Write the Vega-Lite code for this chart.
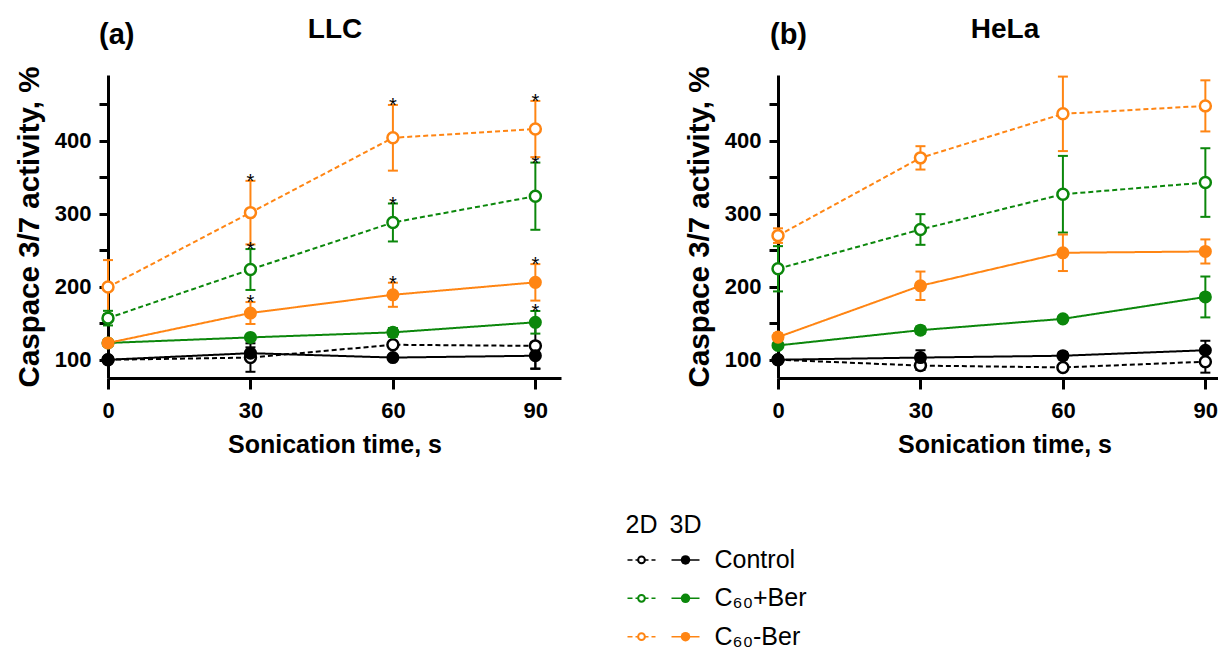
{
  "$schema": "https://vega.github.io/schema/vega-lite/v6.json",
  "autosize": {"type": "pad"},
  "padding": {"left": 14, "top": 15, "right": 0, "bottom": 0},
  "bounds": "flush",
  "columns": 2,
  "spacing": {"column": 217, "row": 122},
  "config": {
    "font": "Liberation Sans",
    "view": {"stroke": null},
    "axis": {
      "domainColor": "black", "domainWidth": 3, "tickColor": "black", "tickWidth": 3,
      "labelFont": "Liberation Sans", "labelFontWeight": "bold", "labelFontSize": 22, "labelColor": "black",
      "titleFont": "Liberation Sans", "titleFontWeight": "bold", "titleColor": "black", "grid": false
    },
    "title": {"font": "Liberation Sans", "fontWeight": "bold", "color": "black"}
  },
  "datasets": {
    "main": [
      {"panel": "LLC", "group": "Control", "dim": "2D", "time": 0, "mean": 100, "lo": 97, "hi": 103, "star": false},
      {"panel": "LLC", "group": "Control", "dim": "2D", "time": 30, "mean": 103, "lo": 83.5, "hi": 122.5, "star": false},
      {"panel": "LLC", "group": "Control", "dim": "2D", "time": 60, "mean": 120.5, "lo": 116.5, "hi": 124.5, "star": false},
      {"panel": "LLC", "group": "Control", "dim": "2D", "time": 90, "mean": 119, "lo": 88, "hi": 150, "star": false},
      {"panel": "LLC", "group": "Control", "dim": "3D", "time": 0, "mean": 100, "lo": 98, "hi": 102, "star": false},
      {"panel": "LLC", "group": "Control", "dim": "3D", "time": 30, "mean": 109, "lo": 101, "hi": 117, "star": false},
      {"panel": "LLC", "group": "Control", "dim": "3D", "time": 60, "mean": 103, "lo": 100, "hi": 106, "star": false},
      {"panel": "LLC", "group": "Control", "dim": "3D", "time": 90, "mean": 105.5, "lo": 87.5, "hi": 123.5, "star": false},
      {"panel": "LLC", "group": "C60+Ber", "dim": "2D", "time": 0, "mean": 157, "lo": 147, "hi": 167, "star": false},
      {"panel": "LLC", "group": "C60+Ber", "dim": "2D", "time": 30, "mean": 223.6, "lo": 195.6, "hi": 251.6, "star": true},
      {"panel": "LLC", "group": "C60+Ber", "dim": "2D", "time": 60, "mean": 288, "lo": 262, "hi": 314, "star": true},
      {"panel": "LLC", "group": "C60+Ber", "dim": "2D", "time": 90, "mean": 324, "lo": 278, "hi": 370, "star": true},
      {"panel": "LLC", "group": "C60+Ber", "dim": "3D", "time": 0, "mean": 123, "lo": 119, "hi": 127, "star": false},
      {"panel": "LLC", "group": "C60+Ber", "dim": "3D", "time": 30, "mean": 130.6, "lo": 127.6, "hi": 133.6, "star": false},
      {"panel": "LLC", "group": "C60+Ber", "dim": "3D", "time": 60, "mean": 137.5, "lo": 131.5, "hi": 143.5, "star": false},
      {"panel": "LLC", "group": "C60+Ber", "dim": "3D", "time": 90, "mean": 151.3, "lo": 135.8, "hi": 166.8, "star": true},
      {"panel": "LLC", "group": "C60-Ber", "dim": "2D", "time": 0, "mean": 199.5, "lo": 162.5, "hi": 236.5, "star": false},
      {"panel": "LLC", "group": "C60-Ber", "dim": "2D", "time": 30, "mean": 301.5, "lo": 258, "hi": 345, "star": true},
      {"panel": "LLC", "group": "C60-Ber", "dim": "2D", "time": 60, "mean": 404, "lo": 359, "hi": 449, "star": true},
      {"panel": "LLC", "group": "C60-Ber", "dim": "2D", "time": 90, "mean": 416, "lo": 377.5, "hi": 454.5, "star": true},
      {"panel": "LLC", "group": "C60-Ber", "dim": "3D", "time": 0, "mean": 123, "lo": 120, "hi": 126, "star": false},
      {"panel": "LLC", "group": "C60-Ber", "dim": "3D", "time": 30, "mean": 164, "lo": 149, "hi": 179, "star": true},
      {"panel": "LLC", "group": "C60-Ber", "dim": "3D", "time": 60, "mean": 189, "lo": 172.5, "hi": 205.5, "star": true},
      {"panel": "LLC", "group": "C60-Ber", "dim": "3D", "time": 90, "mean": 206, "lo": 181, "hi": 231, "star": true},
      {"panel": "HeLa", "group": "Control", "dim": "2D", "time": 0, "mean": 100, "lo": 97, "hi": 103, "star": false},
      {"panel": "HeLa", "group": "Control", "dim": "2D", "time": 30, "mean": 92, "lo": 86, "hi": 98, "star": false},
      {"panel": "HeLa", "group": "Control", "dim": "2D", "time": 60, "mean": 89.5, "lo": 86.5, "hi": 92.5, "star": false},
      {"panel": "HeLa", "group": "Control", "dim": "2D", "time": 90, "mean": 97.3, "lo": 82.3, "hi": 112.3, "star": false},
      {"panel": "HeLa", "group": "Control", "dim": "3D", "time": 0, "mean": 100, "lo": 98, "hi": 102, "star": false},
      {"panel": "HeLa", "group": "Control", "dim": "3D", "time": 30, "mean": 103, "lo": 93, "hi": 113, "star": false},
      {"panel": "HeLa", "group": "Control", "dim": "3D", "time": 60, "mean": 105.5, "lo": 100.5, "hi": 110.5, "star": false},
      {"panel": "HeLa", "group": "Control", "dim": "3D", "time": 90, "mean": 113, "lo": 100, "hi": 126, "star": false},
      {"panel": "HeLa", "group": "C60+Ber", "dim": "2D", "time": 0, "mean": 224.6, "lo": 193.6, "hi": 255.6, "star": false},
      {"panel": "HeLa", "group": "C60+Ber", "dim": "2D", "time": 30, "mean": 278.4, "lo": 257.4, "hi": 299.4, "star": false},
      {"panel": "HeLa", "group": "C60+Ber", "dim": "2D", "time": 60, "mean": 326.7, "lo": 274.2, "hi": 379.2, "star": false},
      {"panel": "HeLa", "group": "C60+Ber", "dim": "2D", "time": 90, "mean": 342.7, "lo": 295.7, "hi": 389.7, "star": false},
      {"panel": "HeLa", "group": "C60+Ber", "dim": "3D", "time": 0, "mean": 119.6, "lo": 116.6, "hi": 122.6, "star": false},
      {"panel": "HeLa", "group": "C60+Ber", "dim": "3D", "time": 30, "mean": 140.5, "lo": 135.5, "hi": 145.5, "star": false},
      {"panel": "HeLa", "group": "C60+Ber", "dim": "3D", "time": 60, "mean": 156, "lo": 152, "hi": 160, "star": false},
      {"panel": "HeLa", "group": "C60+Ber", "dim": "3D", "time": 90, "mean": 186, "lo": 158, "hi": 214, "star": false},
      {"panel": "HeLa", "group": "C60-Ber", "dim": "2D", "time": 0, "mean": 270, "lo": 260, "hi": 280, "star": false},
      {"panel": "HeLa", "group": "C60-Ber", "dim": "2D", "time": 30, "mean": 376.5, "lo": 360.5, "hi": 392.5, "star": false},
      {"panel": "HeLa", "group": "C60-Ber", "dim": "2D", "time": 60, "mean": 436.8, "lo": 385.8, "hi": 487.8, "star": false},
      {"panel": "HeLa", "group": "C60-Ber", "dim": "2D", "time": 90, "mean": 447.7, "lo": 412.7, "hi": 482.7, "star": false},
      {"panel": "HeLa", "group": "C60-Ber", "dim": "3D", "time": 0, "mean": 131, "lo": 126, "hi": 136, "star": false},
      {"panel": "HeLa", "group": "C60-Ber", "dim": "3D", "time": 30, "mean": 201.3, "lo": 181.8, "hi": 220.8, "star": false},
      {"panel": "HeLa", "group": "C60-Ber", "dim": "3D", "time": 60, "mean": 246.5, "lo": 221.5, "hi": 271.5, "star": false},
      {"panel": "HeLa", "group": "C60-Ber", "dim": "3D", "time": 90, "mean": 248.3, "lo": 231.8, "hi": 264.8, "star": false}
    ],
    "legend": [
      {"kind": "hdr", "g": "hdr", "col": "2D", "label": "2D"},
      {"kind": "hdr", "g": "hdr", "col": "3D", "label": "3D"},
      {"kind": "sym", "g": "Control", "col": "2D"},
      {"kind": "sym", "g": "Control", "col": "3D"},
      {"kind": "sym", "g": "C60+Ber", "col": "2D"},
      {"kind": "sym", "g": "C60+Ber", "col": "3D"},
      {"kind": "sym", "g": "C60-Ber", "col": "2D"},
      {"kind": "sym", "g": "C60-Ber", "col": "3D"},
      {"kind": "lbl", "g": "Control", "col": "3D", "label": "Control"},
      {"kind": "lbl", "g": "C60+Ber", "col": "3D", "label": "C₆₀+Ber"},
      {"kind": "lbl", "g": "C60-Ber", "col": "3D", "label": "C₆₀-Ber"}
    ]
  },
  "data": {"name": "main"},
  "concat": [
    {
      "title": {"text": "(a)", "anchor": "start", "frame": "group", "fontSize": 29, "baseline": "alphabetic", "offset": 0, "dx": -9, "dy": 57.5},
      "width": 453, "height": 303,
      "transform": [{"filter": "datum.panel === 'LLC'"}],
      "resolve": {"axis": {"x": "independent"}},
      "encoding": {
        "color": {"field": "group", "type": "nominal", "scale": {"domain": ["Control", "C60+Ber", "C60-Ber"], "range": ["#000000", "#0b870b", "#ff8513"]}, "legend": null}
      },
      "layer": [
        {
          "mark": {"type": "rule", "strokeWidth": 2},
          "encoding": {
            "x": {"field": "time", "type": "quantitative", "scale": {"domain": [0, 95.4], "nice": false, "zero": false},
              "axis": {"title": "Sonication time, s", "values": [0, 30, 60, 90], "tickSize": 11, "labelPadding": 11, "labelFlush": false, "titleFontSize": 25, "titlePadding": 11}},
            "y": {"field": "lo", "type": "quantitative", "scale": {"domain": [75, 490], "nice": false, "zero": false},
              "axis": {"title": "Caspace 3/7 activity, %", "values": [100, 150, 200, 250, 300, 350, 400, 450], "labelExpr": "datum.value % 100 === 0 ? datum.label : ''", "tickSize": 9, "labelPadding": 8, "titleFontSize": 29.5, "titlePadding": 10}},
            "y2": {"field": "hi"}
          }
        },
        {
          "mark": {"type": "tick", "orient": "horizontal", "size": 10, "thickness": 2, "opacity": 1},
          "encoding": {
            "x": {"field": "time", "type": "quantitative", "axis": {"orient": "top", "domain": false, "ticks": false, "labels": false, "title": "LLC", "titleFontSize": 28, "titleBaseline": "alphabetic", "titleY": -38, "titlePadding": 0}},
            "y": {"field": "lo", "type": "quantitative", "title": "Caspace 3/7 activity, %"}
          }
        },
        {
          "mark": {"type": "tick", "orient": "horizontal", "size": 10, "thickness": 2, "opacity": 1},
          "encoding": {
            "x": {"field": "time", "type": "quantitative", "axis": null},
            "y": {"field": "hi", "type": "quantitative", "title": "Caspace 3/7 activity, %"}
          }
        },
        {
          "mark": {"type": "line", "strokeWidth": 2},
          "encoding": {
            "x": {"field": "time", "type": "quantitative", "axis": null},
            "y": {"field": "mean", "type": "quantitative", "title": "Caspace 3/7 activity, %"},
            "strokeDash": {"field": "dim", "type": "nominal", "scale": {"domain": ["2D", "3D"], "range": [[5, 3], [1, 0]]}, "legend": null},
            "detail": {"field": "dim"}
          }
        },
        {
          "transform": [{"filter": "datum.dim === '2D'"}],
          "mark": {"type": "point", "filled": false, "fill": "white", "fillOpacity": 1, "opacity": 1, "strokeWidth": 2.5, "size": 120},
          "encoding": {
            "x": {"field": "time", "type": "quantitative", "axis": null},
            "y": {"field": "mean", "type": "quantitative", "title": "Caspace 3/7 activity, %"}
          }
        },
        {
          "transform": [{"filter": "datum.dim === '3D'"}],
          "mark": {"type": "circle", "opacity": 1, "size": 170},
          "encoding": {
            "x": {"field": "time", "type": "quantitative", "axis": null},
            "y": {"field": "mean", "type": "quantitative", "title": "Caspace 3/7 activity, %"}
          }
        },
        {
          "transform": [{"filter": "datum.star"}],
          "mark": {"type": "text", "text": "*", "fontSize": 20, "baseline": "alphabetic", "dy": 7},
          "encoding": {
            "x": {"field": "time", "type": "quantitative", "axis": null},
            "y": {"field": "hi", "type": "quantitative", "title": "Caspace 3/7 activity, %"},
            "color": {"value": "black"}
          }
        }
      ]
    },
    {
      "title": {"text": "(b)", "anchor": "start", "frame": "group", "fontSize": 29, "baseline": "alphabetic", "offset": 0, "dx": -8, "dy": 57.5},
      "width": 453, "height": 303,
      "transform": [{"filter": "datum.panel === 'HeLa'"}],
      "resolve": {"axis": {"x": "independent"}},
      "encoding": {
        "color": {"field": "group", "type": "nominal", "scale": {"domain": ["Control", "C60+Ber", "C60-Ber"], "range": ["#000000", "#0b870b", "#ff8513"]}, "legend": null}
      },
      "layer": [
        {
          "mark": {"type": "rule", "strokeWidth": 2},
          "encoding": {
            "x": {"field": "time", "type": "quantitative", "scale": {"domain": [0, 95.4], "nice": false, "zero": false},
              "axis": {"title": "Sonication time, s", "values": [0, 30, 60, 90], "tickSize": 11, "labelPadding": 11, "labelFlush": false, "titleFontSize": 25, "titlePadding": 11}},
            "y": {"field": "lo", "type": "quantitative", "scale": {"domain": [75, 490], "nice": false, "zero": false},
              "axis": {"title": "Caspace 3/7 activity, %", "values": [100, 150, 200, 250, 300, 350, 400, 450], "labelExpr": "datum.value % 100 === 0 ? datum.label : ''", "tickSize": 9, "labelPadding": 8, "titleFontSize": 29.5, "titlePadding": 10}},
            "y2": {"field": "hi"}
          }
        },
        {
          "mark": {"type": "tick", "orient": "horizontal", "size": 10, "thickness": 2, "opacity": 1},
          "encoding": {
            "x": {"field": "time", "type": "quantitative", "axis": {"orient": "top", "domain": false, "ticks": false, "labels": false, "title": "HeLa", "titleFontSize": 28, "titleBaseline": "alphabetic", "titleY": -38, "titlePadding": 0}},
            "y": {"field": "lo", "type": "quantitative", "title": "Caspace 3/7 activity, %"}
          }
        },
        {
          "mark": {"type": "tick", "orient": "horizontal", "size": 10, "thickness": 2, "opacity": 1},
          "encoding": {
            "x": {"field": "time", "type": "quantitative", "axis": null},
            "y": {"field": "hi", "type": "quantitative", "title": "Caspace 3/7 activity, %"}
          }
        },
        {
          "mark": {"type": "line", "strokeWidth": 2},
          "encoding": {
            "x": {"field": "time", "type": "quantitative", "axis": null},
            "y": {"field": "mean", "type": "quantitative", "title": "Caspace 3/7 activity, %"},
            "strokeDash": {"field": "dim", "type": "nominal", "scale": {"domain": ["2D", "3D"], "range": [[5, 3], [1, 0]]}, "legend": null},
            "detail": {"field": "dim"}
          }
        },
        {
          "transform": [{"filter": "datum.dim === '2D'"}],
          "mark": {"type": "point", "filled": false, "fill": "white", "fillOpacity": 1, "opacity": 1, "strokeWidth": 2.5, "size": 120},
          "encoding": {
            "x": {"field": "time", "type": "quantitative", "axis": null},
            "y": {"field": "mean", "type": "quantitative", "title": "Caspace 3/7 activity, %"}
          }
        },
        {
          "transform": [{"filter": "datum.dim === '3D'"}],
          "mark": {"type": "circle", "opacity": 1, "size": 170},
          "encoding": {
            "x": {"field": "time", "type": "quantitative", "axis": null},
            "y": {"field": "mean", "type": "quantitative", "title": "Caspace 3/7 activity, %"}
          }
        }
      ]
    },
    {
      "data": {"name": "legend"},
      "width": 453, "height": 149,
      "encoding": {
        "x": {"field": "col", "type": "nominal", "scale": {"type": "point", "domain": ["2D", "3D"], "range": [533.5, 577.5], "padding": 0}, "axis": null},
        "y": {"field": "g", "type": "nominal", "scale": {"type": "point", "domain": ["hdr", "Control", "C60+Ber", "C60-Ber"], "range": [21.5, 136.7], "padding": 0}, "axis": null}
      },
      "layer": [
        {
          "transform": [{"filter": "datum.kind === 'sym'"}],
          "mark": {"type": "rule", "strokeWidth": 1.5, "xOffset": -14, "x2Offset": 14},
          "encoding": {
            "x2": {"field": "col"},
            "color": {"field": "g", "type": "nominal", "scale": {"domain": ["Control", "C60+Ber", "C60-Ber"], "range": ["#000000", "#0b870b", "#ff8513"]}, "legend": null},
            "strokeDash": {"field": "col", "type": "nominal", "scale": {"domain": ["2D", "3D"], "range": [[3, 3], [1, 0]]}, "legend": null}
          }
        },
        {
          "transform": [{"filter": "datum.kind === 'sym' && datum.col === '2D'"}],
          "mark": {"type": "point", "filled": false, "fill": "white", "fillOpacity": 1, "opacity": 1, "strokeWidth": 2, "size": 45},
          "encoding": {"color": {"field": "g", "type": "nominal", "scale": {"domain": ["Control", "C60+Ber", "C60-Ber"], "range": ["#000000", "#0b870b", "#ff8513"]}, "legend": null}}
        },
        {
          "transform": [{"filter": "datum.kind === 'sym' && datum.col === '3D'"}],
          "mark": {"type": "circle", "opacity": 1, "size": 90},
          "encoding": {"color": {"field": "g", "type": "nominal", "scale": {"domain": ["Control", "C60+Ber", "C60-Ber"], "range": ["#000000", "#0b870b", "#ff8513"]}, "legend": null}}
        },
        {
          "transform": [{"filter": "datum.kind === 'lbl'"}],
          "mark": {"type": "text", "align": "left", "baseline": "middle", "dx": 29, "fontSize": 25, "color": "black"},
          "encoding": {"text": {"field": "label"}}
        },
        {
          "transform": [{"filter": "datum.kind === 'hdr'"}],
          "mark": {"type": "text", "align": "center", "baseline": "middle", "dy": 3, "fontSize": 25, "color": "black"},
          "encoding": {"text": {"field": "label"}}
        }
      ]
    }
  ]
}
